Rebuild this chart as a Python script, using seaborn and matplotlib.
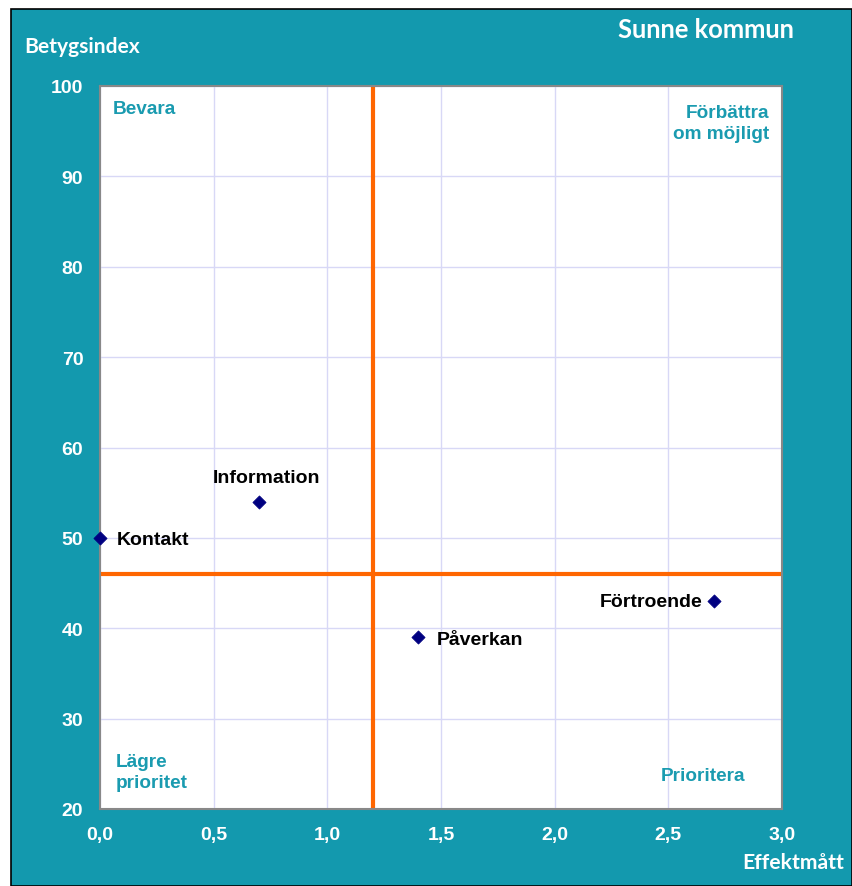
import pandas as pd
import seaborn as sns
import matplotlib.pyplot as plt
from matplotlib.patches import Rectangle

W, H = 852, 887
TEAL = "#1399ae"
LABEL_TEAL = "#1a9bb0"
ORANGE = "#ff6600"
NAVY = "#000080"

namn = ["Kontakt", "Information", "Påverkan", "Förtroende"]
effektmatt = [0.0, 0.7, 1.4, 2.7]
betygsindex = [50, 54, 39, 43]
x_ticks = [0.0, 0.5, 1.0, 1.5, 2.0, 2.5, 3.0]
y_ticks = [20, 30, 40, 50, 60, 70, 80, 90, 100]
x_ref = 1.2
y_ref = 46

df = pd.DataFrame({"namn": namn, "x": effektmatt, "y": betygsindex})


def px(x, y):
    return x / W, 1 - y / H


sns.set_style("white")
fig = plt.figure(figsize=(W / 100, H / 100), dpi=100)
fig.patch.set_facecolor("white")
fig.patches.append(Rectangle(px(11, H), (W - 11) / W, (H - 10) / H,
                             transform=fig.transFigure, facecolor=TEAL,
                             edgecolor="black", linewidth=1.2, zorder=-10))

ax = fig.add_axes([100 / W, 1 - 810 / H, 682 / W, 723 / H])
ax.set_zorder(1)
ax.set_facecolor("white")
ax.set_xlim(0, 3)
ax.set_ylim(20, 100)
ax.set_xticks(x_ticks)
ax.set_yticks(y_ticks)
ax.set_xticklabels([f"{v:.1f}".replace(".", ",") for v in x_ticks])
ax.set_yticklabels([str(v) for v in y_ticks])
ax.grid(True, color="#d8d8f6", linewidth=1)
ax.set_axisbelow(True)
for s in ax.spines.values():
    s.set_color("#888888")
    s.set_linewidth(1.5)
ax.tick_params(axis="both", length=0, labelcolor="white", labelsize=14)
ax.tick_params(axis="y", pad=12)
ax.tick_params(axis="x", pad=12)
for lab in ax.get_xticklabels() + ax.get_yticklabels():
    lab.set_fontweight("bold")
    lab.set_family("Liberation Sans")

ax.axvline(x_ref, color=ORANGE, linewidth=3, zorder=2)
ax.axhline(y_ref, color=ORANGE, linewidth=3, zorder=2)

sns.scatterplot(data=df, x="x", y="y", marker="D", s=45, color=NAVY,
                edgecolor=NAVY, ax=ax, zorder=4, clip_on=False, legend=False)
ax.set_xlabel("")
ax.set_ylabel("")

offsets = {"Kontakt": (17, -2, "left"), "Information": (7, 24, "center"),
           "Påverkan": (18, -2, "left"), "Förtroende": (-11, 0, "right")}
for n, x, y in zip(namn, effektmatt, betygsindex):
    dx, dy, ha = offsets[n]
    ax.annotate(n, (x, y), xytext=(dx, dy), textcoords="offset pixels",
                ha=ha, va="center", fontsize=14, fontweight="bold",
                family="Liberation Sans", color="black", zorder=5)

qkw = dict(color=LABEL_TEAL, fontsize=13.7, fontweight="bold",
           family="Liberation Sans", va="center", linespacing=1.3, zorder=5)
fig.text(*px(113, 110), "Bevara", ha="left", **qkw)
fig.text(*px(769, 124), "Förbättra\nom möjligt", ha="right", multialignment="right", **qkw)
fig.text(*px(116, 773), "Lägre\nprioritet", ha="left", **qkw)
fig.text(*px(703, 777), "Prioritera", ha="center", **qkw)

tkw = dict(color="white", fontweight="bold", family="Lato", va="center")
fig.text(*px(24, 47), "Betygsindex", ha="left", fontsize=15.1, **tkw)
fig.text(*px(706, 30), "Sunne kommun", ha="center", fontsize=18.4, **tkw)
fig.text(*px(844, 863), "Effektmått", ha="right", fontsize=15.2, **tkw)

fig.savefig("out.png", dpi=100)
